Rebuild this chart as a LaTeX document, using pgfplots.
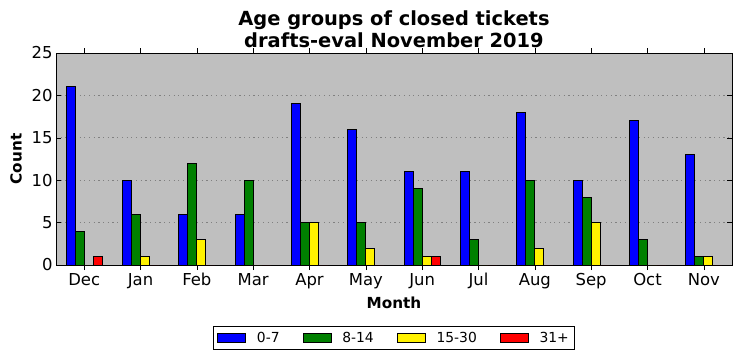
\documentclass[border=0pt]{standalone}
\usepackage{pgfplots}
\pgfplotsset{compat=1.18}
\usepackage{fontspec}
\setmainfont{DejaVu Sans}
\definecolor{bgc}{RGB}{191,191,191}
\definecolor{mgreen}{RGB}{0,128,0}
\begin{document}
\begin{tikzpicture}
\begin{axis}[
  scale only axis,
  width=676bp, height=212bp,
  xmin=-0.5, xmax=11.5, ymin=0, ymax=25,
  xtick={0,...,11},
  xticklabels={Dec,Jan,Feb,Mar,Apr,May,Jun,Jul,Aug,Sep,Oct,Nov},
  ytick={0,5,10,15,20,25},
  /pgf/number format/assume math mode=true,
  ticklabel style={font=\fontsize{16.5}{19}\selectfont},
  xticklabel style={text height=12bp, text depth=3.5bp},
  axis background/.style={fill=bgc},
  ymajorgrids,
  major grid style={gray, dash pattern=on 1.2bp off 3.5bp, line width=0.7pt},
  axis line style={line width=0.8pt},
  major tick length=5bp,
  tick style={black, line width=0.6pt},
  title style={font=\bfseries\fontsize{19.5}{22}\selectfont, align=center, yshift=-4bp},
  title={Age groups of closed tickets\\drafts-eval November 2019},
  xlabel={\bfseries Month},
  ylabel={\bfseries Count},
  xlabel style={yshift=-1bp},
  ylabel style={yshift=3bp},
  label style={font=\bfseries\fontsize{15.3}{18}\selectfont},
  ybar,
  bar width=0.16,
  every axis plot/.append style={draw=black, line width=1pt},
  legend columns=4,
  legend style={at={(0.5,-0.288)}, anchor=north, draw=black, line width=0.8pt,
    font=\fontsize{13.9}{16}\selectfont, column sep=9bp, inner xsep=4bp, inner ysep=3.5bp,
    /tikz/every even column/.append style={column sep=21bp}},
  legend image code/.code={\draw[#1, line width=0.8pt] (0bp,-4.5bp) rectangle (28bp,4.5bp);},
]
\addplot[fill=blue, bar shift=-0.24] coordinates {(0,21) (1,10) (2,6) (3,6) (4,19) (5,16) (6,11) (7,11) (8,18) (9,10) (10,17) (11,13)};
\addlegendentry{0-7}
\addplot[fill=mgreen, bar shift=-0.08] coordinates {(0,4) (1,6) (2,12) (3,10) (4,5) (5,5) (6,9) (7,3) (8,10) (9,8) (10,3) (11,1)};
\addlegendentry{8-14}
\addplot[fill=yellow, bar shift=0.08] coordinates {(0,0) (1,1) (2,3) (3,0) (4,5) (5,2) (6,1) (7,0) (8,2) (9,5) (10,0) (11,1)};
\addlegendentry{15-30}
\addplot[fill=red, bar shift=0.24] coordinates {(0,1) (1,0) (2,0) (3,0) (4,0) (5,0) (6,1) (7,0) (8,0) (9,0) (10,0) (11,0)};
\addlegendentry{31+}
\end{axis}
\pgfresetboundingbox
\path (current axis.south west) ++(-56bp,-96bp) coordinate (bbA);
\path (current axis.north east) ++(10bp,53bp) coordinate (bbB);
\path[use as bounding box] (bbA) rectangle (bbB);
\end{tikzpicture}
\end{document}
